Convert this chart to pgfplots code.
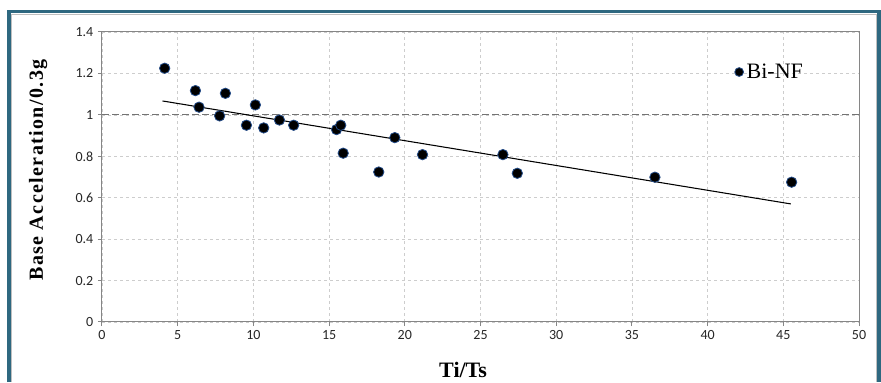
\documentclass[border=0pt]{standalone}
\usepackage{fontspec}
\setmainfont{Liberation Serif}
\newfontfamily\tickfont{Carlito}
\newfontfamily\labelfont[LetterSpace=7]{Liberation Serif}
\usepackage{pgfplots}
\pgfplotsset{compat=1.18}
\definecolor{framec}{RGB}{46,104,128}
\definecolor{gridc}{RGB}{205,205,205}
\definecolor{axisc}{RGB}{134,134,134}
\definecolor{edgec}{RGB}{35,75,135}
\begin{document}
\begin{tikzpicture}
\useasboundingbox (0,0) rectangle (660.75pt,286.5pt);
\draw[framec, line width=2.6pt, line join=miter] (6.9pt,0pt) -- (6.9pt,277.7pt) -- (659.1pt,277.7pt) -- (659.1pt,0pt);
\draw[black!25, line width=0.6pt] (8.9pt,0pt) -- (8.9pt,275.8pt) -- (657.2pt,275.8pt) -- (657.2pt,0pt);
\begin{axis}[
  at={(76.5pt,45pt)}, anchor=south west,
  scale only axis, width=567.75pt, height=217.5pt,
  xmin=0, xmax=50, ymin=0, ymax=1.4,
  xtick={0,5,10,15,20,25,30,35,40,45,50},
  ytick={0,0.2,0.4,0.6,0.8,1,1.2,1.4},
  grid=major,
  major grid style={gridc, dash pattern=on 2.5pt off 2pt, line width=0.5pt},
  axis line style={axisc, line width=0.75pt},
  tick style={axisc, line width=0.75pt},
  major tick length=3pt,
  tick align=outside,
  tick pos=left,
  /pgf/number format/assume math mode=true,
  ticklabel style={font=\tickfont\fontsize{10.5}{12}\selectfont, text=black!85},
  xlabel={Ti/Ts},
  xlabel style={at={(axis description cs:0.477,-0.165)}, anchor=center, font=\fontsize{16.5}{18}\selectfont\bfseries},
  ylabel={Base Acceleration/0.3g},
  ylabel style={at={(axis description cs:-0.0845,0.524)}, anchor=center, font=\labelfont\fontsize{15}{17}\selectfont\bfseries},
  legend style={at={(axis description cs:0.835,0.862)}, anchor=west, draw=none, fill=none, inner sep=0pt, font=\fontsize{16.5}{18}\selectfont},
  legend image code/.code={\draw[fill=black, draw=edgec, line width=0.6pt] (0pt,0pt) circle (3.3pt);},
]
\addplot[forget plot, black!55, dash pattern=on 5pt off 2.5pt, line width=0.8pt] coordinates {(0,1) (50,1)};
\addplot[forget plot, black, line width=0.8pt] coordinates {(4.0,1.067) (45.5,0.570)};
\addplot[only marks, mark=*, mark size=3.9pt, mark options={fill=black, draw=edgec, line width=0.6pt}] coordinates {
(4.14,1.225) (6.17,1.117) (6.41,1.037) (7.77,0.995) (8.15,1.104)
(9.54,0.950) (10.13,1.048) (10.68,0.937) (11.72,0.975) (12.66,0.950)
(15.49,0.929) (15.77,0.950) (15.93,0.815) (18.28,0.724) (19.34,0.890)
(21.17,0.808) (26.48,0.808) (27.43,0.718) (36.52,0.699) (45.55,0.675)
};
\addlegendentry{Bi-NF}
\end{axis}
\end{tikzpicture}
\end{document}
